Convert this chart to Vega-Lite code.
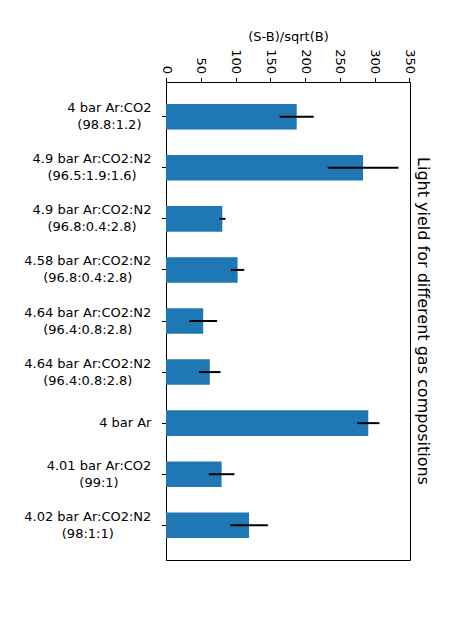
{
  "$schema": "https://vega.github.io/schema/vega-lite/v6.json",
  "autosize": "none",
  "padding": {"left": 166, "top": 82, "right": 51, "bottom": 59},
  "width": 244,
  "height": 478,
  "background": "white",
  "title": {
    "text": "Light yield for different gas compositions",
    "orient": "right",
    "anchor": "middle",
    "angle": 90,
    "fontSize": 16,
    "font": "DejaVu Sans",
    "fontWeight": "normal",
    "color": "black",
    "offset": 0
  },
  "data": {
    "values": [
      {"composition": "4 bar Ar:CO2\n(98.8:1.2)", "value": 188, "err": 24.5},
      {"composition": "4.9 bar Ar:CO2:N2\n(96.5:1.9:1.6)", "value": 283.5, "err": 51},
      {"composition": "4.9 bar Ar:CO2:N2\n(96.8:0.4:2.8)", "value": 81, "err": 4.5},
      {"composition": "4.58 bar Ar:CO2:N2\n(96.8:0.4:2.8)", "value": 103, "err": 9.6},
      {"composition": "4.64 bar Ar:CO2:N2\n(96.4:0.8:2.8)", "value": 53.5, "err": 20},
      {"composition": "4.64 bar Ar:CO2:N2\n(96.4:0.8:2.8)\u200b", "value": 63, "err": 15.4},
      {"composition": "4 bar Ar", "value": 291, "err": 16},
      {"composition": "4.01 bar Ar:CO2\n(99:1)", "value": 80, "err": 18.5},
      {"composition": "4.02 bar Ar:CO2:N2\n(98:1:1)", "value": 119.5, "err": 27}
    ]
  },
  "encoding": {
    "y": {
      "field": "composition",
      "type": "nominal",
      "sort": null,
      "scale": {"paddingInner": 0.5, "paddingOuter": 0.43},
      "axis": {
        "title": null,
        "orient": "left",
        "labelExpr": "split(datum.label, '\\n')",
        "labelAlign": "center",
        "labelBaseline": "middle",
        "labelLineHeight": 17,
        "labelFont": "DejaVu Sans",
        "labelFontSize": 13,
        "labelColor": "black",
        "labelLimit": 0,
        "tickSize": 4.5,
        "tickColor": "black",
        "domainColor": "black",
        "labelOffset": {
          "condition": {"test": "datum.value == '4 bar Ar'", "value": 0},
          "value": -8.5
        },
        "labelPadding": {
          "condition": [
            {"test": "datum.value == '4 bar Ar'", "value": 36.7},
            {"test": "indexof(datum.value, '4 bar Ar:CO2') == 0", "value": 52.6},
            {"test": "indexof(datum.value, '4.9 bar') == 0", "value": 70},
            {"test": "indexof(datum.value, '4.01 bar') == 0", "value": 63}
          ],
          "value": 74.2
        }
      }
    }
  },
  "layer": [
    {
      "mark": {"type": "bar", "color": "#1f77b4"},
      "encoding": {
        "x": {
          "field": "value",
          "type": "quantitative",
          "title": "(S-B)/sqrt(B)",
          "scale": {"domain": [0, 351], "nice": false, "zero": true},
          "axis": {
            "orient": "top",
            "values": [0, 50, 100, 150, 200, 250, 300, 350],
            "labelAngle": 90,
            "labelAlign": "right",
            "labelBaseline": "middle",
            "labelPadding": 4,
            "labelFlush": false,
            "labelOverlap": false,
            "labelFont": "DejaVu Sans",
            "labelFontSize": 13,
            "labelColor": "black",
            "tickSize": 4.5,
            "tickColor": "black",
            "domainColor": "black",
            "grid": false,
            "titleFont": "DejaVu Sans",
            "titleFontSize": 13,
            "titleFontWeight": "normal",
            "titleColor": "black",
            "titlePadding": 5
          }
        }
      }
    },
    {
      "mark": {"type": "errorbar", "color": "black", "thickness": 2},
      "encoding": {
        "x": {
          "field": "value",
          "type": "quantitative",
          "title": "(S-B)/sqrt(B)",
          "axis": {
            "orient": "top",
            "values": [0, 50, 100, 150, 200, 250, 300, 350],
            "labelAngle": 90,
            "labelAlign": "right",
            "labelBaseline": "middle",
            "labelPadding": 4,
            "labelFlush": false,
            "labelOverlap": false,
            "labelFont": "DejaVu Sans",
            "labelFontSize": 13,
            "labelColor": "black",
            "tickSize": 4.5,
            "tickColor": "black",
            "domainColor": "black",
            "grid": false,
            "titleFont": "DejaVu Sans",
            "titleFontSize": 13,
            "titleFontWeight": "normal",
            "titleColor": "black",
            "titlePadding": 5
          }
        },
        "xError": {"field": "err"}
      }
    }
  ],
  "config": {
    "view": {"stroke": "black", "strokeWidth": 1},
    "axis": {"grid": false, "domainWidth": 1, "tickWidth": 1}
  }
}
